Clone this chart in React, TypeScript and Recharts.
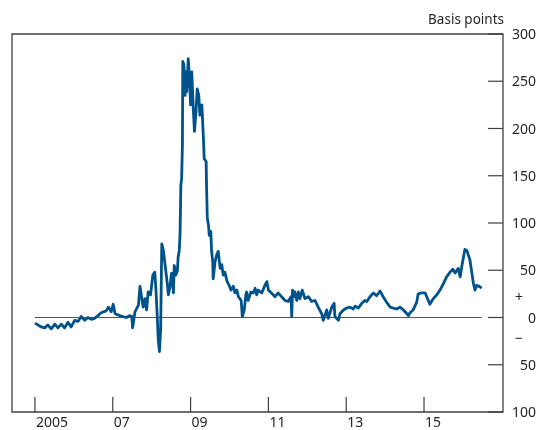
import { LineChart, Line, XAxis, YAxis, ReferenceLine, ReferenceArea } from 'recharts'

// decimal years
const years = [
  2005.0, 2005.08, 2005.16, 2005.25, 2005.33, 2005.42, 2005.51, 2005.59, 2005.68, 2005.76,
  2005.85, 2005.93, 2006.02, 2006.11, 2006.19, 2006.28, 2006.36, 2006.45, 2006.53, 2006.62,
  2006.7, 2006.83, 2006.89, 2006.96, 2007.01, 2007.06, 2007.18, 2007.26, 2007.35, 2007.43,
  2007.49, 2007.51, 2007.57, 2007.66, 2007.7, 2007.74, 2007.78, 2007.83, 2007.87, 2007.91,
  2007.97, 2008.03, 2008.08, 2008.11, 2008.14, 2008.17, 2008.2, 2008.23, 2008.25, 2008.26,
  2008.3, 2008.34, 2008.39, 2008.43, 2008.47, 2008.51, 2008.56, 2008.58, 2008.62, 2008.66,
  2008.68, 2008.71, 2008.73, 2008.75, 2008.77, 2008.79, 2008.8, 2008.83, 2008.86, 2008.88,
  2008.9, 2008.94, 2008.97, 2009.0, 2009.03, 2009.07, 2009.1, 2009.14, 2009.17, 2009.21,
  2009.24, 2009.29, 2009.33, 2009.35, 2009.4, 2009.41, 2009.43, 2009.46, 2009.48, 2009.52,
  2009.54, 2009.57, 2009.58, 2009.63, 2009.67, 2009.71, 2009.76, 2009.8, 2009.84, 2009.88,
  2009.94, 2009.99, 2010.04, 2010.1, 2010.14, 2010.19, 2010.23, 2010.3, 2010.33, 2010.38,
  2010.42, 2010.44, 2010.48, 2010.55, 2010.61, 2010.66, 2010.7, 2010.74, 2010.83, 2010.91,
  2010.96, 2011.0, 2011.08, 2011.17, 2011.25, 2011.34, 2011.43, 2011.51, 2011.58, 2011.6,
  2011.62, 2011.66, 2011.68, 2011.73, 2011.77, 2011.81, 2011.87, 2011.94, 2012.03, 2012.11,
  2012.2, 2012.28, 2012.37, 2012.41, 2012.5, 2012.54, 2012.63, 2012.69, 2012.71, 2012.8,
  2012.84, 2012.93, 2013.01, 2013.1, 2013.18, 2013.23, 2013.31, 2013.4, 2013.48, 2013.53,
  2013.61, 2013.7, 2013.78, 2013.87, 2013.95, 2014.04, 2014.13, 2014.21, 2014.3, 2014.38,
  2014.47, 2014.56, 2014.6, 2014.64, 2014.72, 2014.81, 2014.85, 2014.94, 2015.03, 2015.11,
  2015.15, 2015.24, 2015.33, 2015.41, 2015.5, 2015.58, 2015.67, 2015.74, 2015.8, 2015.88,
  2015.93, 2015.97, 2016.01, 2016.05, 2016.1, 2016.14, 2016.18, 2016.23, 2016.27, 2016.31,
  2016.35, 2016.42, 2016.48,
]

// spread, basis points
const spread = [
  -6, -8, -10, -11, -8, -12, -7, -11, -7, -11,
  -5, -10, -3, -4, 1, -3, 0, -2, -1, 2,
  5, 7, 11, 6, 14, 4, 2, 1, 0, 2,
  1, -11, 6, 13, 33, 22, 11, 20, 8, 27,
  24, 45, 48, 29, 4, -24, -36, -13, 47, 78,
  71, 57, 40, 24, 33, 47, 26, 55, 45, 49,
  64, 71, 90, 140, 147, 182, 271, 267, 235, 260,
  239, 274, 253, 225, 260, 221, 197, 218, 242, 235,
  214, 225, 190, 168, 165, 140, 105, 98, 87, 91,
  70, 59, 41, 59, 66, 70, 52, 56, 45, 48,
  38, 34, 29, 33, 26, 29, 22, 18, 1, 8,
  24, 27, 18, 27, 26, 31, 24, 29, 26, 34,
  38, 29, 26, 22, 26, 22, 18, 17, 22, 1,
  29, 22, 27, 18, 27, 20, 29, 20, 22, 17,
  18, 11, 4, -3, 8, -1, 11, 15, 1, -3,
  4, 8, 10, 11, 9, 12, 10, 15, 18, 17,
  22, 26, 23, 28, 22, 16, 11, 10, 9, 11,
  8, 4, 2, 5, 8, 16, 25, 26, 26, 18,
  14, 20, 24, 29, 36, 43, 48, 51, 47, 52,
  43, 54, 63, 72, 71, 66, 61, 47, 36, 29,
  34, 33, 31,
]

const xTicks = [2005, 2007, 2009, 2011, 2013, 2015]
const xTickLabels = ['2005', '07', '09', '11', '13', '15']
const yTicks = [300, 250, 200, 150, 100, 50, 0, -50, -100]
const signTicks = [22, -22]
const signLabels = ['+', '\u2212']

const data = years.map((year, i) => ({ year, spread: spread[i] }))

const X_DOMAIN: [number, number] = [2004.41, 2017.03]
const Y_DOMAIN: [number, number] = [-100, 300]
const AXIS = '#3f3f3f'
const TEXT = '#262626'
const BLUE = '#00528a'
const FONT = '"Noto Sans", "Open Sans", sans-serif'
const TICK_LEN = 15

function BottomTick({ x, y, payload }: any) {
  const label = xTickLabels[xTicks.indexOf(payload.value)]
  return (
    <g>
      <line x1={x} x2={x} y1={y} y2={y - TICK_LEN} stroke={AXIS} strokeWidth={1.2} />
      <text x={x + 1} y={y + 15} fontSize={14} fill={TEXT} fontFamily={FONT}>
        {label}
      </text>
    </g>
  )
}

function LeftTick({ x, y }: any) {
  return <line x1={x} x2={x + TICK_LEN} y1={y} y2={y} stroke={AXIS} strokeWidth={1.2} />
}

function RightTick({ x, y, payload }: any) {
  const v = payload.value
  const s = signTicks.indexOf(v)
  if (s >= 0) {
    return (
      <text x={x + 16} y={y + 5} fontSize={14} fill={TEXT} fontFamily={FONT} textAnchor="middle">
        {signLabels[s]}
      </text>
    )
  }
  return (
    <g>
      <line x1={x - TICK_LEN} x2={x} y1={y} y2={y} stroke={AXIS} strokeWidth={1.2} />
      <text x={x + 33} y={y + 5} fontSize={14} fill={TEXT} fontFamily={FONT} textAnchor="end">
        {Math.abs(v)}
      </text>
    </g>
  )
}

export default function App() {
  // fixed so the chart never makes the page scroll
  return (
    <div style={{ position: 'fixed', left: 8, top: 8, width: 530, height: 422 }}>
      <div
        style={{
          position: 'absolute',
          right: 34,
          top: 5,
          fontFamily: FONT,
          fontSize: 13.5,
          lineHeight: 1,
          color: TEXT,
          whiteSpace: 'nowrap',
        }}
      >
        Basis points
      </div>
      <LineChart
        width={530}
        height={422}
        data={data}
        margin={{ top: 26, right: 0, bottom: 0, left: 4 }}
      >
        <XAxis
          dataKey="year"
          type="number"
          domain={X_DOMAIN}
          allowDataOverflow
          ticks={xTicks}
          interval={0}
          height={18}
          tickSize={0}
          tickMargin={0}
          axisLine={false}
          tickLine={false}
          tick={BottomTick}
        />
        <YAxis
          yAxisId="left"
          orientation="left"
          type="number"
          domain={Y_DOMAIN}
          ticks={yTicks}
          interval={0}
          width={0}
          tickSize={0}
          tickMargin={0}
          axisLine={false}
          tickLine={false}
          tick={LeftTick}
        />
        <YAxis
          yAxisId="right"
          orientation="right"
          type="number"
          domain={Y_DOMAIN}
          ticks={[...yTicks, ...signTicks]}
          interval={0}
          width={35}
          tickSize={0}
          tickMargin={0}
          axisLine={false}
          tickLine={false}
          tick={RightTick}
        />
        <ReferenceArea
          yAxisId="right"
          x1={X_DOMAIN[0]}
          x2={X_DOMAIN[1]}
          y1={Y_DOMAIN[0]}
          y2={Y_DOMAIN[1]}
          fill="none"
          stroke={AXIS}
          strokeWidth={1.3}
        />
        <ReferenceLine
          yAxisId="right"
          segment={[
            { x: years[0], y: 0 },
            { x: years[years.length - 1], y: 0 },
          ]}
          stroke="#555"
          strokeWidth={1.2}
        />
        <Line
          yAxisId="right"
          type="linear"
          dataKey="spread"
          stroke={BLUE}
          strokeWidth={2.8}
          strokeLinejoin="round"
          dot={false}
          activeDot={false}
          isAnimationActive={false}
        />
      </LineChart>
    </div>
  )
}
